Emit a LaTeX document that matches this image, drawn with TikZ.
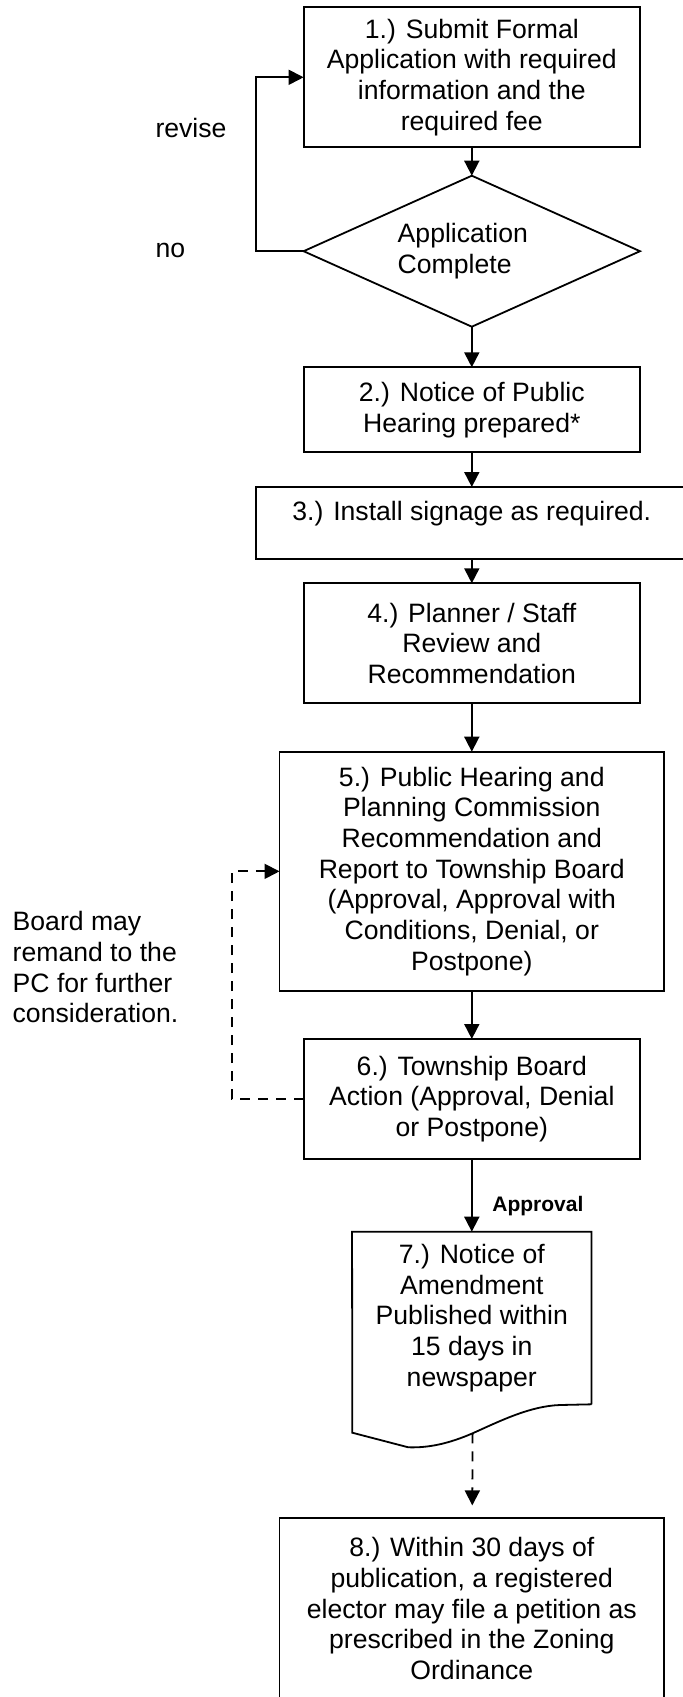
\documentclass[tikz,border=0pt]{standalone}
\usepackage{fontspec}
\setmainfont{Liberation Sans}
\usetikzlibrary{positioning,shapes.geometric,arrows.meta}
\newcommand{\flowfont}{\fontsize{13.3pt}{15.35pt}\selectfont}

\begin{document}
\begin{tikzpicture}[x=0.5pt, y=-0.5pt, line width=0.9pt,
        main/.style = {draw, rectangle, align=center, inner sep=0pt, outer sep=0pt, font=\flowfont},
        dec/.style = {draw, diamond, aspect=2.23, align=left, inner sep=0pt, outer sep=0pt, minimum width=168.2pt, minimum height=75.5pt, font=\flowfont},
        lbl/.style = {anchor=west, align=left, inner sep=0pt, font=\flowfont},
        arr/.style = {-{Triangle[length=7.5pt,width=7.5pt]}},
        dsh/.style = {dash pattern=on 5pt off 4pt}]
    \useasboundingbox (0,0) rectangle (683,1697);

    \node[main, minimum width=168.2pt, minimum height=70pt] (1) at (471.8,77.3) {1.) Submit Formal\\Application with required\\information and the\\required fee};
    \node[dec] (q) [below=14.2pt of 1] {Application\kern9pt\\Complete};
    \node[main, minimum width=168.2pt, minimum height=42.5pt] (2) [below=20.3pt of q] {2.) Notice of Public\\Hearing prepared*};
    \node[main, minimum width=216.15pt, minimum height=36.15pt, text depth=11.8pt] (3) [below=17.35pt of 2] {3.) Install signage as required.};
    \node[main, minimum width=168.2pt, minimum height=60pt] (4) [below=12pt of 3] {4.) Planner / Staff\\Review and\\Recommendation};
    \node[main, minimum width=192.3pt, minimum height=119.65pt] (5) [below=24.2pt of 4] {5.) Public Hearing and\\Planning Commission\\Recommendation and\\Report to Township Board\\(Approval, Approval with\\Conditions, Denial, or\\Postpone)};
    \node[main, minimum width=168.2pt, minimum height=60pt] (6) [below=24pt of 5] {6.) Township Board\\Action (Approval, Denial\\or Postpone)};
    \node[main, draw=none, minimum width=119.75pt, minimum height=86.3pt] (7) [below=36.35pt of 6] {7.) Notice of\\Amendment\\Published within\\15 days in\\newspaper};
    \node[main, minimum width=192.3pt, minimum height=91pt] (8) [below=56.7pt of 7] {8.) Within 30 days of\\publication, a registered\\elector may file a petition as\\prescribed in the Zoning\\Ordinance};

    % document shape of step 7
    \coordinate (wave) at (472.6,1433.3);
    \draw (7.south east) -- (7.north east) -- (7.north west) -- (352.3,1432.7) -- (408.3,1447.3)
        .. controls (430,1448) and (450,1443) .. (wave)
        .. controls (500,1421) and (530,1406) .. (560,1405) -- (7.south east);

    \node[lbl] (rev) at (154.6,128) {revise};
    \node[lbl] (no) at (154.6,250) {no};
    \node[lbl] (pc) at (11.8,967.2) {Board may\\remand to the\\PC for further\\consideration.};

    \draw[arr] (1) -- (q);
    \draw[arr] (q) -- (2);
    \draw[arr] (2) -- (3);
    \draw[arr] (3) -- (4);
    \draw[arr] (4) -- (5);
    \draw[arr] (5) -- (6);
    \draw[arr] (6) -- node[pos=0.65, right=6.5pt, font=\bfseries\fontsize{10.5pt}{12pt}\selectfont] (ok) {Approval} (7);
    \draw[arr, dsh, shorten >=6.15pt] (wave) -- (8);
    \draw[arr] (q.west) -- ++(-48,0) |- (1.west);
    \draw[arr, dsh] (6.west) -- ++(-72,0) |- (5.west);
\end{tikzpicture}
\end{document}
